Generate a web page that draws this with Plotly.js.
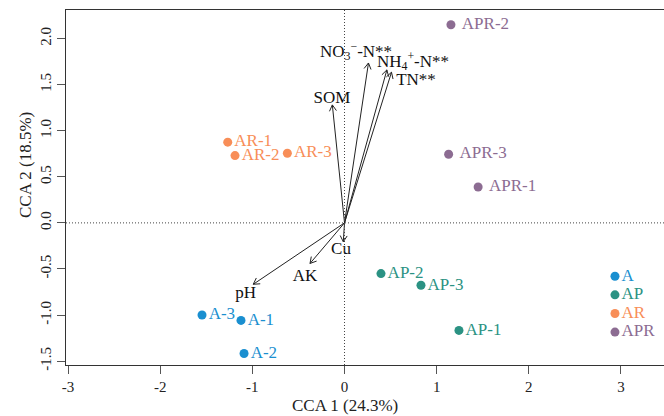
<!DOCTYPE html>
<html><head><meta charset="utf-8">
<script src="https://cdn.plot.ly/plotly-3.0.1.min.js"></script>
<style>html,body{margin:0;padding:0;background:#fff}</style></head>
<body>
<div id="chart" style="width:664px;height:416px"></div>
<script>
// ---- data ----
const groups = ['A', 'AP', 'AR', 'APR'];
const groupColors = ['#1a8fd0', '#2b9283', '#f88e58', '#8c6c92'];
const siteA_labels = ['A-1', 'A-2', 'A-3'];
const siteA_x = [-1.123, -1.09, -1.546];
const siteA_y = [-1.058, -1.417, -1.0];
const siteAP_labels = ['AP-1', 'AP-2', 'AP-3'];
const siteAP_x = [1.242, 0.396, 0.83];
const siteAP_y = [-1.167, -0.55, -0.677];
const siteAR_labels = ['AR-1', 'AR-2', 'AR-3'];
const siteAR_x = [-1.267, -1.188, -0.62];
const siteAR_y = [0.876, 0.73, 0.756];
const siteAPR_labels = ['APR-1', 'APR-2', 'APR-3'];
const siteAPR_x = [1.45, 1.155, 1.13];
const siteAPR_y = [0.39, 2.15, 0.745];

const envNames = ['NO<sub>3</sub><sup>\u2212</sup>-N**', 'NH<sub>4</sub><sup>+</sup>-N**', 'TN**', 'SOM', 'Cu', 'AK', 'pH'];
const envX = [0.26, 0.46, 0.51, -0.132, -0.013, -0.374, -0.99];
const envY = [1.735, 1.66, 1.635, 1.28, -0.205, -0.44, -0.666];
const envLabelX = [0.125, 0.743, 0.776, -0.136, -0.038, -0.429, -1.072];
const envLabelY = [1.848, 1.739, 1.546, 1.347, -0.296, -0.579, -0.767];

const xTicks = [-3, -2, -1, 0, 1, 2, 3];
const yTicks = [-1.5, -1.0, -0.5, 0.0, 0.5, 1.0, 1.5, 2.0];
const yTickText = ['-1.5', '-1.0', '-0.5', '0.0', '0.5', '1.0', '1.5', '2.0'];

// ---- layout constants ----
const W = 664, H = 416;
const M = {l: 66, r: 0, t: 10, b: 51};
const xRange = [-3.022, 3.467];
const yRange = [-1.542, 2.31];
const FONT = '"Liberation Serif", "Times New Roman", Times, serif';
const pxX = (W - M.l - M.r) / (xRange[1] - xRange[0]);
const pxY = (H - M.t - M.b) / (yRange[1] - yRange[0]);

const siteSets = [
  [siteA_labels, siteA_x, siteA_y],
  [siteAP_labels, siteAP_x, siteAP_y],
  [siteAR_labels, siteAR_x, siteAR_y],
  [siteAPR_labels, siteAPR_x, siteAPR_y]
];

const traces = [];

// arrows (environment vectors)
const ax = [], ay = [];
const headLen = 7, headAng = Math.PI / 6;
for (let i = 0; i < envX.length; i++) {
  ax.push(0, envX[i], null);
  ay.push(0, envY[i], null);
  const th = Math.atan2(envY[i] * pxY, envX[i] * pxX);
  for (const s of [1, -1]) {
    const a = th + Math.PI + s * headAng;
    ax.push(envX[i], envX[i] + headLen * Math.cos(a) / pxX, null);
    ay.push(envY[i], envY[i] + headLen * Math.sin(a) / pxY, null);
  }
}
traces.push({x: ax, y: ay, mode: 'lines', line: {color: '#222', width: 1}, hoverinfo: 'skip', showlegend: false});

traces.push({
  x: envLabelX, y: envLabelY, text: envNames, mode: 'text',
  textfont: {family: FONT, size: 17, color: '#111'}, textposition: 'middle center',
  showlegend: false, hoverinfo: 'skip'
});

siteSets.forEach((s, gi) => {
  const pad = gi === 3 ? '\u00a0' : '';
  traces.push({
    x: s[1], y: s[2], text: s[0].map(t => pad + t), mode: 'markers+text',
    marker: {color: groupColors[gi], size: 9},
    textposition: 'middle right',
    textfont: {family: FONT, size: 17, color: groupColors[gi]},
    name: groups[gi], showlegend: false
  });
});

// in-plot legend
const legX = 2.935, legY0 = -0.579, legStep = 0.202;
traces.push({
  x: groups.map(() => legX), y: groups.map((g, i) => legY0 - i * legStep),
  text: groups, mode: 'markers+text', textposition: 'middle right',
  marker: {color: groupColors, size: 9},
  textfont: {family: FONT, size: 17, color: groupColors},
  showlegend: false, hoverinfo: 'skip'
});

const layout = {
  width: W, height: H, margin: M,
  paper_bgcolor: '#fff', plot_bgcolor: '#fff',
  font: {family: FONT, size: 15, color: '#222'},
  showlegend: false,
  xaxis: {
    range: xRange, tickvals: xTicks, ticktext: xTicks.map(String),
    showgrid: false, zeroline: false, showline: true, mirror: true,
    linecolor: '#333', linewidth: 1, ticks: 'outside', ticklen: 8, tickcolor: '#555',
    tickfont: {family: FONT, size: 15, color: '#222'}
  },
  yaxis: {
    range: yRange, tickvals: yTicks, ticktext: yTickText, tickangle: -90,
    showgrid: false, zeroline: false, showline: true, mirror: false,
    linecolor: '#333', linewidth: 1, ticks: 'outside', ticklen: 8, tickcolor: '#555',
    tickfont: {family: FONT, size: 15, color: '#222'}
  },
  shapes: [
    {type: 'line', xref: 'x', yref: 'paper', x0: 0, x1: 0, y0: 0, y1: 1, line: {color: '#444', width: 1, dash: '1px,2px'}},
    {type: 'line', xref: 'paper', yref: 'y', x0: 0, x1: 1, y0: 0, y1: 0, line: {color: '#444', width: 1, dash: '1px,2px'}}
  ],
  annotations: [
    {text: 'CCA 1 (24.3%)', xref: 'paper', yref: 'paper', x: (345 - M.l) / (W - M.l - M.r), y: -(405 - (H - M.b)) / (H - M.t - M.b),
     showarrow: false, xanchor: 'center', yanchor: 'middle', font: {family: FONT, size: 17, color: '#222'}},
    {text: 'CCA 2 (18.5%)', xref: 'paper', yref: 'paper', x: (25 - M.l) / (W - M.l - M.r), y: 1 - (165 - M.t) / (H - M.t - M.b),
     showarrow: false, xanchor: 'center', yanchor: 'middle', textangle: -90, font: {family: FONT, size: 17, color: '#222'}}
  ]
};

Plotly.newPlot('chart', traces, layout, {staticPlot: true, displayModeBar: false});
</script>
</body></html>
